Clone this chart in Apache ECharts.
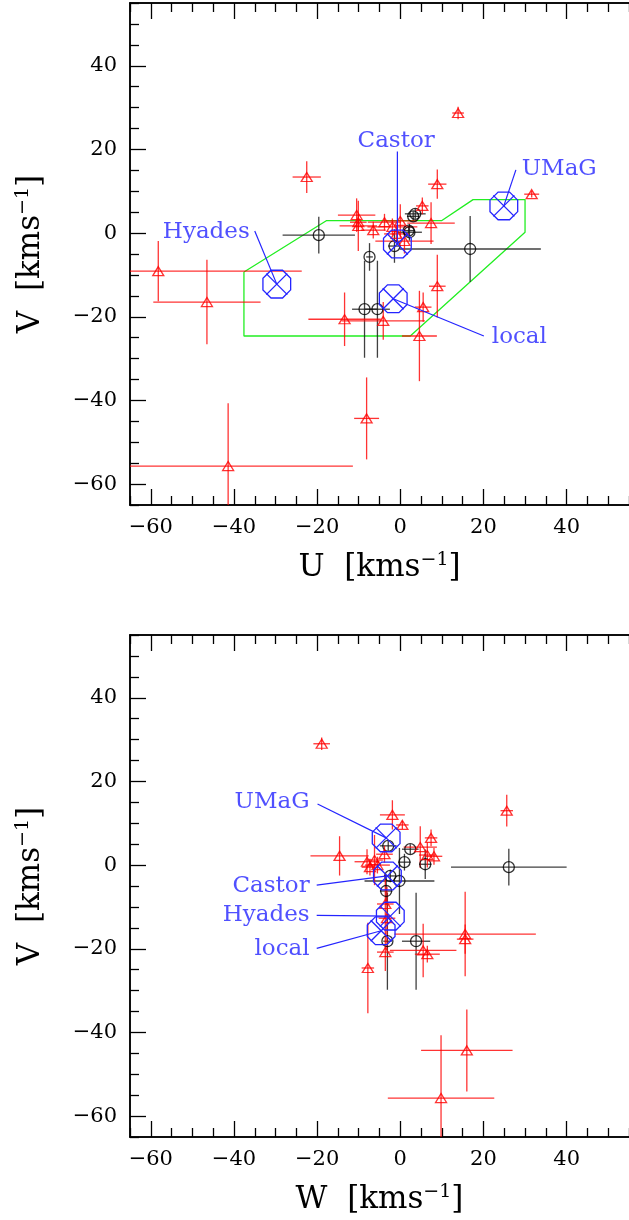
<!DOCTYPE html>
<html>
<head>
<meta charset="utf-8">
<script src="https://cdn.jsdelivr.net/npm/echarts@6/dist/echarts.min.js"></script>
<style>html,body{margin:0;padding:0;background:#fff;overflow:hidden}</style>
</head>
<body>
<div id="main" style="width:629px;height:1220px"></div>
<script>
// U-V plane, each star: [U, V, errU, errV]
var uvRed = [
  [13.9, 28.7, 1.4, 1.5], [-22.5, 13.4, 3.4, 3.8], [8.9, 11.7, 2.2, 3.5], [31.6, 9.3, 1.8, 0.8],
  [5.3, 6.5, 1.5, 2], [-10.5, 4.3, 4.5, 4], [-10.1, 2.6, 2, 2], [-10.1, 1.7, 4.5, 6],
  [-6.5, 0.7, 3, 2], [-3.8, 2.6, 4, 2], [0, 2.9, 4, 4], [-1.9, 1.5, 6, 2],
  [-0.9, -0.2, 3, 2], [1, -1.9, 7, 3], [7.4, 2.4, 5.7, 5], [-58.2, -9.1, 34.5, 7.2],
  [-46.5, -16.5, 12.9, 10.1], [-13.4, -20.6, 8.7, 6.4], [-4.1, -21.0, 10, 4.5], [4.6, -24.6, 4.2, 10.8],
  [5.5, -17.7, 2, 3.5], [8.9, -12.7, 2, 7.5], [-8.1, -44.3, 3, 9.8], [-41.4, -55.7, 30, 15]
];
var uvBlack = [
  [-19.6, -0.5, 8.7, 4.4], [-7.4, -5.7, 0.8, 3.3], [-8.6, -18.2, 3, 11.6], [-5.5, -18.2, 3, 11.6],
  [16.8, -3.8, 17, 7.9], [3.6, 4.6, 2.5, 1.2], [3.1, 4.0, 1.5, 1.2], [2.2, 0.2, 3, 2],
  [2.0, 0.6, 1.5, 1], [-1.4, -3.1, 1.5, 4]
];
// W-V plane, each star: [W, V, errW, errV]
var wvRed = [
  [-18.9, 29.0, 2, 1.5], [25.6, 13.0, 1.5, 3.8], [-1.9, 12.0, 3, 3.5], [0.5, 9.6, 1.5, 1],
  [7.4, 6.5, 1.5, 2], [-14.6, 2.2, 7, 4.7], [-8.0, 0.8, 3, 3], [-7.3, -0.5, 2, 2],
  [-6.2, 1.2, 2, 6], [-3.8, 2.6, 2, 2], [-5.5, 0.0, 3, 2], [4.8, 4.3, 4, 5],
  [6.5, 2.4, 2, 3], [8.1, 2.1, 2, 2], [-3.6, -9.3, 2, 7.2], [-3.6, -20.8, 2, 4.5],
  [5.5, -20.4, 8, 6.4], [6.5, -21.3, 3, 2], [-7.8, -24.6, 1.5, 10.8], [15.6, -16.5, 17, 10.1],
  [15.6, -17.7, 2, 3.5], [-3.2, -12.7, 2, 7.5], [16.0, -44.3, 11, 9.8], [9.8, -55.7, 12.8, 15]
];
var wvBlack = [
  [26.1, -0.5, 13.9, 4.4], [-2.9, 4.6, 2, 1.2], [2.4, 3.8, 2, 1.2], [1.0, 0.7, 1.5, 2],
  [6.0, 0.2, 1.5, 3.5], [-2.4, -2.6, 1.5, 1.5], [-0.2, -3.8, 8.4, 7.9], [-3.4, -6.2, 1.5, 3.3],
  [-3.1, -18.2, 1, 11.6], [3.8, -18.2, 3.4, 11.6]
];
// moving groups
var groupNames = ['Hyades', 'Castor', 'UMaG', 'local'];
var groupU = [-29.7, -0.7, 24.9, -1.7];
var groupW = [-2.4, -3.1, -3.4, -4.6];
var groupV = [-12.2, -2.6, 6.5, -15.7];
// label text anchors and leader-line starts (same order as groupNames)
var uvLabelAt = [[-36.2, 0.2], [-1, 22], [29.2, 15.3], [22, -24.9]];
var uvLabelAlign = ['right', 'center', 'left', 'left'];
var uvLeadFrom = [[-35, 0.5], [-0.7, 19.5], [27.8, 15.1], [20.1, -24.6]];
var wvLabelAt = [[-21.8, -12.0], [-21.8, -5.0], [-21.8, 15.1], [-21.8, -20.1]];
var wvLeadFrom = [[-20.1, -12.0], [-20.1, -4.8], [-19.9, 14.6], [-20.1, -19.9]];
// selection box in the U-V plane
var boxU = [-37.6, -17.7, 10, 17.5, 30, 30, 2.4, -37.6, -37.6];
var boxV = [-9.3, 3, 3, 8, 8, 0.2, -24.6, -24.6, -9.3];
// axes
var ticksMajor = [-60, -40, -20, 0, 20, 40];
var ticksMinor = [-65, -55, -50, -45, -35, -30, -25, -15, -10, -5, 5, 10, 15, 25, 30, 35, 45, 50, 55];

var FONT = 'DejaVu Serif';
var RED = '#ff0000', BLUE = '#2424ff';

function minus(v) { return String(v).replace('-', '\u2212'); }

function mkAxis(grid, pos, ticks, len, labels, name, gap) {
  var a = {
    type: 'value', gridIndex: grid, position: pos, min: -65, max: 55,
    axisLine: { show: true, onZero: false, lineStyle: { color: '#000', width: 1.5 } },
    axisTick: { show: true, inside: true, length: len, customValues: ticks, lineStyle: { color: '#000', width: 1.3 } },
    axisLabel: { show: labels, customValues: ticksMajor, formatter: minus, fontFamily: FONT, fontSize: 21, color: '#000', margin: 12 },
    splitLine: { show: false }
  };
  if (name) {
    a.name = name;
    a.nameLocation = 'middle';
    a.nameGap = gap;
    a.nameTextStyle = { fontFamily: FONT, fontSize: 31, color: '#000',
      rich: { s: { fontFamily: FONT, fontSize: 19, color: '#000', padding: [0, 0, 15, 0] } } };
  }
  return a;
}

var xAxes = [], yAxes = [];
[['U', 0], ['W', 1]].forEach(function (p) {
  var g = p[1];
  xAxes.push(mkAxis(g, 'bottom', ticksMajor, 16, true, p[0] + '  [kms{s|\u22121}]', 46));
  xAxes.push(mkAxis(g, 'bottom', ticksMinor, 9, false));
  xAxes.push(mkAxis(g, 'top', ticksMajor, 16, false));
  xAxes.push(mkAxis(g, 'top', ticksMinor, 9, false));
  var y = mkAxis(g, 'left', ticksMajor, 16, true, 'V  [kms{s|\u22121}]', 82);
  y.nameRotate = 90;
  y.axisLabel.margin = 13;
  yAxes.push(y);
  yAxes.push(mkAxis(g, 'left', ticksMinor, 9, false));
});

function errBars(data, g, color) {
  return {
    type: 'custom', xAxisIndex: g * 4, yAxisIndex: g * 2, silent: true, clip: true, z: 2,
    encode: { x: 0, y: 1 },
    renderItem: function (params, api) {
      var x = api.value(0), y = api.value(1), ex = api.value(2), ey = api.value(3);
      var l = api.coord([x - ex, y]), r = api.coord([x + ex, y]);
      var t = api.coord([x, y + ey]), b = api.coord([x, y - ey]);
      var st = { stroke: color, lineWidth: 1.3 };
      return { type: 'group', children: [
        { type: 'line', shape: { x1: l[0], y1: l[1], x2: r[0], y2: r[1] }, style: st },
        { type: 'line', shape: { x1: t[0], y1: t[1], x2: b[0], y2: b[1] }, style: st }
      ] };
    },
    data: data
  };
}

function marks(data, g, symbol, size, color) {
  return {
    type: 'scatter', xAxisIndex: g * 4, yAxisIndex: g * 2, silent: true, z: 4,
    symbol: symbol, symbolSize: size,
    itemStyle: { color: 'rgba(0,0,0,0)', borderColor: color, borderWidth: 1.3 },
    data: data.map(function (d) { return [d[0], d[1]]; })
  };
}

function octagons(xs, g) {
  return {
    type: 'custom', xAxisIndex: g * 4, yAxisIndex: g * 2, silent: true, z: 5,
    encode: { x: 0, y: 1 },
    renderItem: function (params, api) {
      var c = api.coord([api.value(0), api.value(1)]);
      var pts = [], R = 15;
      for (var k = 0; k < 8; k++) {
        var a = (22.5 + 45 * k) * Math.PI / 180;
        pts.push([c[0] + R * Math.cos(a), c[1] + R * Math.sin(a)]);
      }
      var st = { stroke: BLUE, lineWidth: 1.3, fill: null };
      var d = 10.5;
      return { type: 'group', children: [
        { type: 'polygon', shape: { points: pts }, style: st },
        { type: 'line', shape: { x1: c[0] - d, y1: c[1] - d, x2: c[0] + d, y2: c[1] + d }, style: st },
        { type: 'line', shape: { x1: c[0] - d, y1: c[1] + d, x2: c[0] + d, y2: c[1] - d }, style: st }
      ] };
    },
    data: xs.map(function (x, i) { return [x, groupV[i]]; })
  };
}

function leaders(from, xs, g) {
  return {
    type: 'custom', xAxisIndex: g * 4, yAxisIndex: g * 2, silent: true, z: 5,
    renderItem: function (params, api) {
      var a = api.coord([api.value(0), api.value(1)]);
      var b = api.coord([api.value(2), api.value(3)]);
      return { type: 'line', shape: { x1: a[0], y1: a[1], x2: b[0], y2: b[1] }, style: { stroke: BLUE, lineWidth: 1.2 } };
    },
    encode: { x: [0, 2], y: [1, 3] },
    data: from.map(function (f, i) { return [f[0], f[1], xs[i], groupV[i]]; })
  };
}

function labels(at, aligns, g) {
  return {
    type: 'scatter', xAxisIndex: g * 4, yAxisIndex: g * 2, silent: true, z: 6,
    symbolSize: 0,
    data: at.map(function (p, i) {
      return { value: p, name: groupNames[i],
        label: { show: true, position: 'inside', formatter: '{b}', align: aligns ? aligns[i] : 'right',
          verticalAlign: 'middle', fontFamily: FONT, fontSize: 23, color: BLUE } };
    })
  };
}

var series = [
  {
    type: 'line', xAxisIndex: 0, yAxisIndex: 0, silent: true, z: 1, symbol: 'none',
    lineStyle: { color: '#22ee22', width: 1.3 },
    data: boxU.map(function (u, i) { return [u, boxV[i]]; })
  },
  errBars(uvBlack, 0, 'rgba(30,30,30,0.85)'),
  errBars(uvRed, 0, 'rgba(255,0,0,0.8)'),
  marks(uvBlack, 0, 'circle', 11, '#000'),
  marks(uvRed, 0, 'triangle', [11, 9], RED),
  octagons(groupU, 0),
  leaders(uvLeadFrom, groupU, 0),
  labels(uvLabelAt, uvLabelAlign, 0),
  errBars(wvBlack, 1, 'rgba(30,30,30,0.85)'),
  errBars(wvRed, 1, 'rgba(255,0,0,0.8)'),
  marks(wvBlack, 1, 'circle', 11, '#000'),
  marks(wvRed, 1, 'triangle', [11, 9], RED),
  octagons(groupW, 1),
  leaders(wvLeadFrom, groupW, 1),
  labels(wvLabelAt, null, 1)
];

var chart = echarts.init(document.getElementById('main'));
chart.setOption({
  animation: false,
  backgroundColor: '#fff',
  grid: [
    { left: 130, top: 3, width: 501, height: 502 },
    { left: 130, top: 635, width: 501, height: 502 }
  ],
  xAxis: xAxes,
  yAxis: yAxes,
  series: series
});
</script>
</body>
</html>
